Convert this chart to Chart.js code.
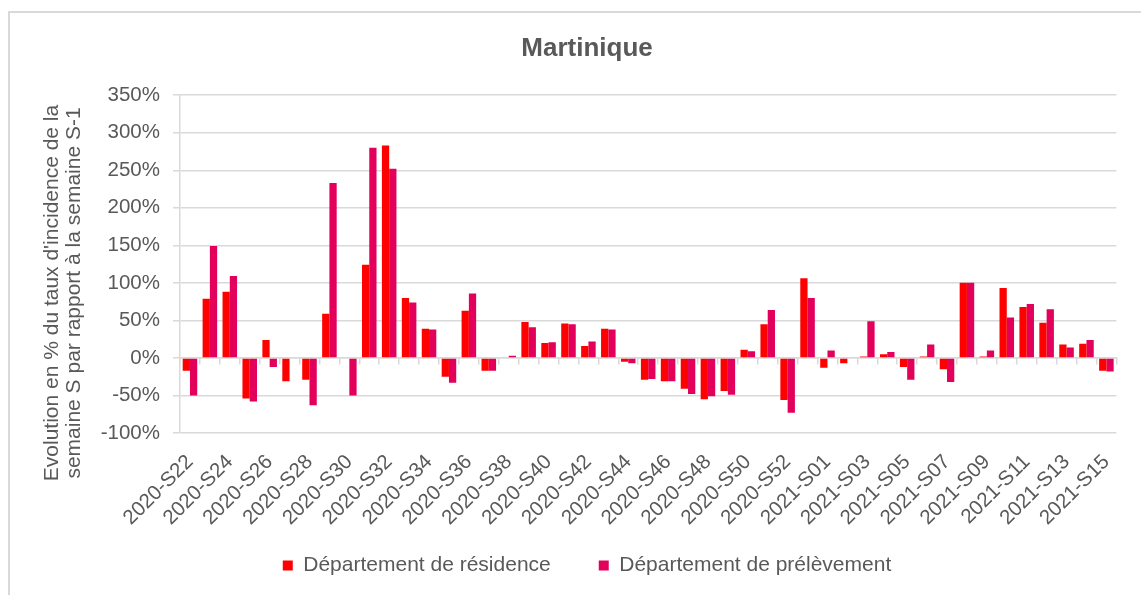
<!DOCTYPE html>
<html>
<head>
<meta charset="utf-8">
<script src="https://cdn.jsdelivr.net/npm/chart.js@4.4.1/dist/chart.umd.min.js"></script>
<style>
    html, body { margin: 0; padding: 0; background: #fff; overflow: hidden; }
    #frame { position: absolute; left: 8px; top: 11px; width: 1200px; height: 650px; border: 2px solid #D9D9D9; }
    #wrap { position: absolute; left: 0; top: 0; width: 1141px; height: 595px; }
</style>
</head>
<body>
<div id="frame"></div>
<div id="wrap"><canvas id="chart"></canvas></div>
<script>
// ── Data ──────────────────────────────────────────────────────────
const weeks = [
    '2020-S22', '2020-S23', '2020-S24', '2020-S25', '2020-S26', '2020-S27', '2020-S28', '2020-S29',
    '2020-S30', '2020-S31', '2020-S32', '2020-S33', '2020-S34', '2020-S35', '2020-S36', '2020-S37',
    '2020-S38', '2020-S39', '2020-S40', '2020-S41', '2020-S42', '2020-S43', '2020-S44', '2020-S45',
    '2020-S46', '2020-S47', '2020-S48', '2020-S49', '2020-S50', '2020-S51', '2020-S52', '2020-S53',
    '2021-S01', '2021-S02', '2021-S03', '2021-S04', '2021-S05', '2021-S06', '2021-S07', '2021-S08',
    '2021-S09', '2021-S10', '2021-S11', '2021-S12', '2021-S13', '2021-S14', '2021-S15'
];

// Département de résidence (%)
const residence = [
    -17, 79, 88, -54, 24, -31, -29, 59,
    0, 124, 283, 80, 39, -25, 63, -17,
    1, 48, 20, 46, 16, 39, -5, -29,
    -31, -41, -55, -44, 11, 45, -56, 106,
    -13, -7, 2, 5, -12, 2, -15, 100,
    2, 93, 68, 47, 18, 19, -17
];

// Département de prélèvement (%)
const prelevement = [
    -50, 149, 109, -58, -12, 0, -63, 233,
    -50, 280, 252, 74, 38, -33, 86, -17,
    3, 41, 21, 45, 22, 38, -7, -28,
    -31, -48, -51, -49, 9, 64, -73, 80,
    10, -1, 49, 8, -29, 18, -32, 100,
    10, 54, 72, 65, 14, 24, -18
];

const yTicks = { min: -100, max: 350, step: 50 };

const seriesNames = ['Département de résidence', 'Département de prélèvement'];
const seriesColors = ['#FF0000', '#E3005A'];
const yTitleLines = ["Evolution en % du taux d'incidence de la", 'semaine S par rapport à la semaine S-1'];

// ── Chart ─────────────────────────────────────────────────────────
const TEXT = '#595959';
const GRID = '#D9D9D9';
const FONT = "'Liberation Sans', Arial, sans-serif";

// Two-line rotated y title, placed like the Excel one (a bit below the axis middle).
const yTitlePlugin = {
    id: 'yTitle',
    afterDraw(chart) {
        const ctx = chart.ctx;
        const cy = 293;
        const baselines = [58, 80];
        ctx.save();
        ctx.fillStyle = TEXT;
        ctx.font = "21px " + FONT;
        ctx.textAlign = 'center';
        ctx.textBaseline = 'alphabetic';
        yTitleLines.forEach((line, i) => {
            ctx.save();
            ctx.translate(baselines[i], cy);
            ctx.rotate(-Math.PI / 2);
            ctx.fillText(line, 0, 0);
            ctx.restore();
        });
        ctx.restore();
    }
};

// default legend items; the first one gets a wider gap after it (Excel spacing)
function legendLabels(chart) {
    return Chart.defaults.plugins.legend.labels.generateLabels(chart)
        .map((item, i) => i === 0 ? { ...item, text: item.text + '\u2002\u2002' } : item);
}

new Chart(document.getElementById('chart'), {
    type: 'bar',
    data: {
        labels: weeks,
        datasets: [
            { label: seriesNames[0], data: residence, backgroundColor: seriesColors[0] },
            { label: seriesNames[1], data: prelevement, backgroundColor: seriesColors[1] }
        ]
    },
    options: {
        responsive: true,
        maintainAspectRatio: false,
        animation: false,
        datasets: { bar: { categoryPercentage: 0.73, barPercentage: 1.0 } },
        layout: { padding: { left: 53, right: 20, top: 0, bottom: 9 } },
        scales: {
            x: {
                grid: { display: false, drawTicks: false },
                border: { display: false },
                afterFit: scale => { scale.height = 95; },
                ticks: {
                    autoSkip: false,
                    maxRotation: 45,
                    minRotation: 45,
                    padding: 17,
                    color: TEXT,
                    font: { family: FONT, size: 20.5 },
                    callback: function (val, i) { return i % 2 === 0 ? this.getLabelForValue(val) : ''; }
                }
            },
            // zero line with the small category tick marks
            x2: {
                type: 'category',
                position: { y: 0 },
                offset: true,
                grid: { offset: true, drawOnChartArea: false, drawTicks: true, tickLength: 6, color: GRID, lineWidth: 1.5 },
                border: { display: true, color: GRID, width: 1.5 },
                ticks: { display: false, autoSkip: false }
            },
            y: {
                min: yTicks.min,
                max: yTicks.max,
                afterFit: scale => { scale.width = 127; },
                ticks: {
                    stepSize: yTicks.step,
                    padding: 13,
                    color: TEXT,
                    font: { family: FONT, size: 20.5 },
                    callback: v => v + '%'
                },
                grid: { color: GRID, lineWidth: 1.5, tickLength: 7 },
                border: { display: true, color: GRID, width: 1.5 }
            }
        },
        plugins: {
            title: {
                display: true,
                text: 'Martinique',
                color: TEXT,
                font: { family: FONT, size: 26, weight: 'bold' },
                padding: { top: 33, bottom: 31 }
            },
            legend: {
                position: 'bottom',
                labels: {
                    boxWidth: 10,
                    boxHeight: 10,
                    padding: 27,
                    color: TEXT,
                    font: { family: FONT, size: 21 },
                    generateLabels: legendLabels
                }
            },
            tooltip: { enabled: false }
        }
    },
    plugins: [yTitlePlugin]
});
</script>
</body>
</html>
